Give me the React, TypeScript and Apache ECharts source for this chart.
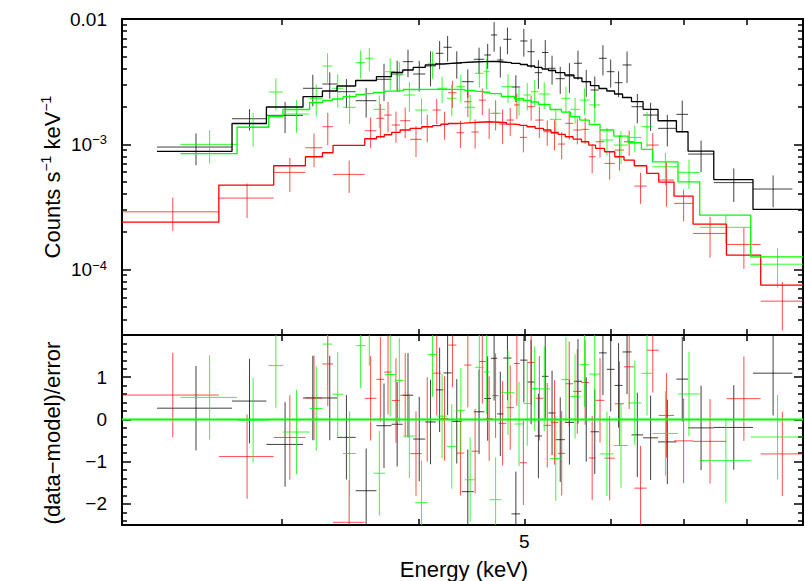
import React, { useEffect, useRef } from "react";
import * as echarts from "echarts";

const FONT = "'Liberation Sans', Arial, Helvetica, sans-serif";

// ---- axis ranges and ticks ----
const E_MIN = 2.14; // keV
const E_MAX = 9.0; // keV
const RATE_MIN = 3e-5;
const RATE_MAX = 1e-2;
const RES_MIN = -2.5;
const RES_MAX = 2;
const RATE_UNIT = 1e-3; // the rate arrays below are in 1e-3 counts s^-1 keV^-1

const X_TICKS = [3, 4, 5, 6, 7, 8];
const X_LABELS = [5];
const RATE_MAJOR = [1e-4, 1e-3, 1e-2];
const RATE_MINOR = [
  4e-5, 5e-5, 6e-5, 7e-5, 8e-5, 9e-5,
  2e-4, 3e-4, 4e-4, 5e-4, 6e-4, 7e-4, 8e-4, 9e-4,
  2e-3, 3e-3, 4e-3, 5e-3, 6e-3, 7e-3, 8e-3, 9e-3,
];
const RES_MAJOR = [-2, -1, 0, 1];
const RES_MINOR = [
  -2.4, -2.2, -1.8, -1.6, -1.4, -1.2, -0.8, -0.6, -0.4, -0.2,
  0.2, 0.4, 0.6, 0.8, 1.2, 1.4, 1.6, 1.8,
];

// ---- black spectrum ----
const blackEdges = [
  2.304, 2.699, 2.902, 3.135, 3.266, 3.368, 3.503, 3.66, 3.778, 3.869, 3.955,
  4.057, 4.148, 4.216, 4.29, 4.382, 4.494, 4.595, 4.661, 4.722, 4.784, 4.866,
  4.957, 5.033, 5.111, 5.19, 5.261, 5.341, 5.446, 5.552, 5.646, 5.749, 5.853,
  5.95, 6.048, 6.151, 6.268, 6.423, 6.629, 6.891, 7.062, 7.456, 8.099, 8.801,
];
const blackRate = [
  0.95, 1.599, 1.702, 2.797, 3.027, 2.627, 2.227, 3.301, 3.638, 4.563, 3.638,
  4.216, 5.324, 5.946, 4.431, 3.158, 4.769, 5.16, 7.457, 4.708, 6.891, 2.865,
  6.677, 5.483, 3.727, 5.403, 4.042, 3.337, 3.507, 4.431, 3.158, 2.711, 4.858,
  3.796, 3.1, 4.295, 1.994, 1.711, 1.34, 1.733, 0.835, 0.494, 0.439,
];
const blackErr = [
  0.27, 0.31, 0.475, 0.789, 0.72, 0.684, 0.593, 1.087, 1.018, 1.129, 0.999,
  1.312, 1.357, 1.375, 1.09, 0.807, 1.137, 1.168, 1.987, 1.299, 1.658, 0.693,
  1.668, 1.43, 0.958, 1.384, 1.048, 0.814, 0.935, 1.163, 0.767, 0.764, 1.314,
  0.956, 0.722, 1.209, 0.525, 0.434, 0.378, 0.496, 0.235, 0.148, 0.125,
];
const blackModel = [
  0.878, 1.464, 1.983, 2.396, 2.661, 2.917, 3.228, 3.462, 3.754, 3.916, 4.102,
  4.295, 4.374, 4.431, 4.48, 4.538, 4.563, 4.58, 4.58, 4.538, 4.48, 4.415,
  4.334, 4.216, 4.102, 3.99, 3.881, 3.727, 3.572, 3.381, 3.158, 2.934, 2.787,
  2.661, 2.518, 2.362, 2.186, 1.9, 1.541, 1.259, 0.882, 0.522, 0.302,
];

// ---- red spectrum ----
const redEdges = [
  2.139, 2.625, 2.947, 3.151, 3.266, 3.34, 3.571, 3.66, 3.721, 3.78, 3.848,
  3.93, 4.027, 4.121, 4.192, 4.259, 4.334, 4.405, 4.472, 4.542, 4.61, 4.675,
  4.737, 4.815, 4.892, 4.952, 5.028, 5.116, 5.206, 5.289, 5.369, 5.451, 5.542,
  5.64, 5.728, 5.81, 5.921, 6.051, 6.17, 6.305, 6.473, 6.639, 6.856, 7.137,
  7.658, 8.232, 9.0,
];
const redRate = [
  0.2888, 0.3716, 0.5963, 0.9376, 1.38, 0.5747, 1.282, 1.611, 1.711, 1.424,
  1.541, 1.094, 1.38, 1.876, 1.45, 2.579, 1.236, 2.186, 1.252, 2.25,
  1.513, 1.766, 1.45, 1.56, 2.06, 1.135, 1.994, 1.56, 1.259, 1.222,
  1.004, 1.469, 1.3, 1.315, 0.7946, 1.047, 0.7037, 0.899, 1.047, 0.4634,
  0.9854, 0.518, 0.3372, 0.1941, 0.1585, 0.0559,
];
const redErr = [
  0.0864, 0.1142, 0.1808, 0.2805, 0.399, 0.1664, 0.352, 0.487, 0.4635, 0.3975,
  0.423, 0.304, 0.3425, 0.429, 0.364, 0.633, 0.3025, 0.54, 0.328, 0.543,
  0.41, 0.475, 0.444, 0.3935, 0.47, 0.274, 0.455, 0.4375, 0.287, 0.328,
  0.244, 0.38, 0.3015, 0.306, 0.209, 0.264, 0.1825, 0.2815, 0.24, 0.129,
  0.244, 0.2, 0.0954, 0.0698, 0.0575, 0.0234,
];
const redModel = [
  0.2389, 0.4721, 0.6733, 0.7946, 0.8553, 0.98, 1.106, 1.148, 1.191, 1.245,
  1.299, 1.34, 1.38, 1.406, 1.442, 1.464, 1.477, 1.491, 1.499, 1.505,
  1.505, 1.499, 1.491, 1.45, 1.437, 1.416, 1.38, 1.34, 1.299, 1.245,
  1.2, 1.148, 1.1, 1.047, 0.9854, 0.9274, 0.8712, 0.7946, 0.7479, 0.6733,
  0.5855, 0.4989, 0.3856, 0.2303, 0.1302, 0.075,
];

// ---- green spectrum ----
const greenEdges = [
  2.421, 2.728, 2.916, 3.005, 3.179, 3.268, 3.335, 3.411, 3.506, 3.574, 3.637,
  3.728, 3.808, 3.875, 3.972, 4.078, 4.161, 4.247, 4.334, 4.413, 4.507, 4.588,
  4.648, 4.764, 4.897, 4.992, 5.07, 5.151, 5.278, 5.408, 5.509, 5.62, 5.734,
  5.866, 6.038, 6.223, 6.401, 6.552, 6.914, 7.238, 8.06, 9.0,
];
const greenRate = [
  0.998, 1.365, 2.613, 1.743, 2.327, 4.216, 2.797, 1.972, 4.48, 4.858, 1.9,
  3.796, 3.572, 2.473, 1.876, 4.431, 2.797, 2.327, 2.88, 1.972, 3.686, 3.796,
  1.766, 2.88, 2.25, 2.473, 2.627, 2.518, 1.581, 2.327, 1.9, 2.25, 2.06,
  1.081, 0.9854, 1.135, 1.38, 0.661, 0.5963, 0.2172, 0.1102,
];
const greenErr = [
  0.298, 0.4055, 0.743, 0.507, 0.666, 1.11, 0.837, 0.525, 1.1355, 1.024, 0.548,
  1.0755, 0.968, 0.67, 0.4415, 1.097, 0.661, 0.6565, 0.718, 0.5, 0.8415, 1.0615,
  0.403, 0.75, 0.557, 0.6115, 0.62, 0.6115, 0.338, 0.548, 0.4415, 0.531, 0.5755,
  0.267, 0.2877, 0.274, 0.4295, 0.192, 0.157, 0.056, 0.0385,
];
const greenModel = [
  0.8425, 1.372, 1.665, 1.894, 2.154, 2.235, 2.297, 2.396, 2.495, 2.532, 2.598,
  2.651, 2.676, 2.736, 2.746, 2.746, 2.746, 2.746, 2.726, 2.686, 2.646, 2.602,
  2.532, 2.405, 2.31, 2.243, 2.174, 2.076, 1.894, 1.808, 1.659, 1.561, 1.442,
  1.299, 1.163, 1.028, 0.9104, 0.7246, 0.5015, 0.2718, 0.1262,
];

const SETS = [
  { edges: blackEdges, rate: blackRate, err: blackErr, model: blackModel, color: "#000000", opacity: 0.75 },
  { edges: redEdges, rate: redRate, err: redErr, model: redModel, color: "#ff0000", opacity: 0.7 },
  { edges: greenEdges, rate: greenRate, err: greenErr, model: greenModel, color: "#00ff00", opacity: 0.8 },
];

const L = Math.log10;

function crossData(s: any) {
  return s.rate.map((r: number, i: number) => {
    const lo = s.edges[i];
    const hi = s.edges[i + 1];
    const y = r * RATE_UNIT;
    const e = s.err[i] * RATE_UNIT;
    const bot = y - e > 0 ? L(y - e) : L(RATE_MIN) - 1;
    return [L(lo), L(hi), L((lo + hi) / 2), L(y), L(y + e), bot];
  });
}

function residData(s: any) {
  return s.rate.map((r: number, i: number) => {
    const lo = s.edges[i];
    const hi = s.edges[i + 1];
    const res = (r - s.model[i]) / s.err[i];
    return [L(lo), L(hi), L((lo + hi) / 2), res, res + 1, res - 1];
  });
}

function modelData(s: any) {
  const pts: number[][] = [];
  s.model.forEach((m: number, i: number) => {
    pts.push([L(s.edges[i]), L(m * RATE_UNIT)]);
    pts.push([L(s.edges[i + 1]), L(m * RATE_UNIT)]);
  });
  const last = s.edges[s.edges.length - 1];
  if (last < E_MAX) pts.push([L(E_MAX), pts[pts.length - 1][1]]);
  return pts;
}

function makeRender(color: string, opacity: number) {
  return (params: any, api: any) => {
    const cs = params.coordSys;
    const x0 = cs.x;
    const x1 = cs.x + cs.width;
    const y0 = cs.y;
    const y1 = cs.y + cs.height;
    const pL = api.coord([api.value(0), api.value(3)]);
    const pR = api.coord([api.value(1), api.value(3)]);
    const pT = api.coord([api.value(2), api.value(4)]);
    const pB = api.coord([api.value(2), api.value(5)]);
    const style = { stroke: color, lineWidth: 1, opacity };
    const children: any[] = [];
    if (pL[1] >= y0 && pL[1] <= y1) {
      children.push({
        type: "line",
        shape: { x1: Math.max(pL[0], x0), y1: pL[1], x2: Math.min(pR[0], x1), y2: pR[1] },
        style,
      });
    }
    const t = Math.max(Math.min(pT[1], pB[1]), y0);
    const b = Math.min(Math.max(pT[1], pB[1]), y1);
    if (b > t && pT[0] >= x0 && pT[0] <= x1) {
      children.push({ type: "line", shape: { x1: pT[0], y1: t, x2: pT[0], y2: b }, style });
    }
    return { type: "group", children };
  };
}

const AXIS_LINE = { show: true, onZero: false, lineStyle: { color: "#000", width: 2 } };
const TICK_STYLE = { color: "#000", width: 1.5 };

function xAxisDef(grid: number, position: string, labels: boolean) {
  return {
    type: "value",
    gridIndex: grid,
    position,
    min: L(E_MIN),
    max: L(E_MAX),
    axisLine: AXIS_LINE,
    axisTick: { show: true, inside: true, length: 6, customValues: X_TICKS.map(L), lineStyle: TICK_STYLE },
    axisLabel: labels
      ? {
          show: true,
          customValues: X_LABELS.map(L),
          formatter: (v: number) => String(Math.round(Math.pow(10, v))),
          color: "#000",
          fontSize: 19,
          fontFamily: FONT,
          margin: 7,
        }
      : { show: false },
    splitLine: { show: false },
  };
}

function yMajorDef(grid: number, position: string, min: number, max: number, ticks: number[], label: any) {
  return {
    type: "value",
    gridIndex: grid,
    position,
    min,
    max,
    axisLine: AXIS_LINE,
    axisTick: { show: true, inside: true, length: 9, customValues: ticks, lineStyle: TICK_STYLE },
    axisLabel: label ? { customValues: ticks, ...label } : { show: false },
    splitLine: { show: false },
  };
}

function yMinorDef(grid: number, position: string, min: number, max: number, ticks: number[]) {
  return {
    type: "value",
    gridIndex: grid,
    position,
    min,
    max,
    axisLine: { show: false, onZero: false },
    axisTick: { show: true, inside: true, length: 5, customValues: ticks, lineStyle: TICK_STYLE },
    axisLabel: { show: false },
    splitLine: { show: false },
  };
}

const rateLabel = {
  show: true,
  color: "#000",
  fontSize: 19,
  fontFamily: FONT,
  margin: 15,
  formatter: (v: number) => {
    const e = Math.round(v);
    if (e === -2) return "0.01";
    return `{b|10}{s|−${-e}}`;
  },
  rich: {
    b: { fontSize: 19, fontFamily: FONT, color: "#000", lineHeight: 22 },
    s: { fontSize: 13, fontFamily: FONT, color: "#000", lineHeight: 22, verticalAlign: "top" },
  },
};

const resLabel = {
  show: true,
  color: "#000",
  fontSize: 19,
  fontFamily: FONT,
  margin: 15,
  formatter: (v: number) => {
    const r = Math.round(v);
    return r < 0 ? `−${-r}` : String(r);
  },
};

export default function App() {
  const ref = useRef<HTMLDivElement>(null);
  useEffect(() => {
    if (!ref.current) return;
    const chart = echarts.init(ref.current, undefined, { renderer: "svg" });
    const yTopMin = L(RATE_MIN);
    const yTopMax = L(RATE_MAX);

    const series: any[] = [];
    SETS.forEach((s) => {
      series.push({
        type: "custom",
        xAxisIndex: 0,
        yAxisIndex: 0,
        renderItem: makeRender(s.color, s.opacity),
        data: crossData(s),
        silent: true,
      });
    });
    SETS.forEach((s) => {
      series.push({
        type: "line",
        xAxisIndex: 0,
        yAxisIndex: 0,
        data: modelData(s),
        symbol: "none",
        showSymbol: false,
        lineStyle: { color: s.color, width: 1.3 },
        silent: true,
      });
    });
    SETS.forEach((s) => {
      series.push({
        type: "custom",
        xAxisIndex: 2,
        yAxisIndex: 4,
        renderItem: makeRender(s.color, s.opacity),
        data: residData(s),
        silent: true,
      });
    });
    series.push({
      type: "line",
      xAxisIndex: 2,
      yAxisIndex: 4,
      data: [
        [L(E_MIN), 0],
        [L(E_MAX), 0],
      ],
      symbol: "none",
      showSymbol: false,
      lineStyle: { color: "#00ff00", width: 2 },
      silent: true,
      z: 5,
    });

    const option: any = {
      animation: false,
      backgroundColor: "#ffffff",
      grid: [
        { left: 122, top: 19, width: 681, height: 316 },
        { left: 122, top: 335, width: 681, height: 190 },
      ],
      xAxis: [
        xAxisDef(0, "bottom", false),
        xAxisDef(0, "top", false),
        xAxisDef(1, "bottom", true),
        xAxisDef(1, "top", false),
      ],
      yAxis: [
        yMajorDef(0, "left", yTopMin, yTopMax, RATE_MAJOR.map(L), rateLabel),
        yMajorDef(0, "right", yTopMin, yTopMax, RATE_MAJOR.map(L), null),
        yMinorDef(0, "left", yTopMin, yTopMax, RATE_MINOR.map(L)),
        yMinorDef(0, "right", yTopMin, yTopMax, RATE_MINOR.map(L)),
        yMajorDef(1, "left", RES_MIN, RES_MAX, RES_MAJOR, resLabel),
        yMajorDef(1, "right", RES_MIN, RES_MAX, RES_MAJOR, null),
        yMinorDef(1, "left", RES_MIN, RES_MAX, RES_MINOR),
        yMinorDef(1, "right", RES_MIN, RES_MAX, RES_MINOR),
      ],
      series,
      graphic: [
        {
          type: "text",
          x: 52,
          y: 177,
          rotation: Math.PI / 2,
          style: {
            text: "{n|Counts s}{s|−1}{n| keV}{s|−1}",
            align: "center",
            verticalAlign: "middle",
            rich: {
              n: { fontSize: 22, fontFamily: FONT, fill: "#000", lineHeight: 26 },
              s: { fontSize: 14, fontFamily: FONT, fill: "#000", lineHeight: 26, verticalAlign: "top" },
            },
          },
        },
        {
          type: "text",
          x: 52,
          y: 433,
          rotation: Math.PI / 2,
          style: {
            text: "(data−model)/error",
            align: "center",
            verticalAlign: "middle",
            fontSize: 22,
            fontFamily: FONT,
            fill: "#000",
          },
        },
        {
          type: "text",
          x: 464,
          y: 569,
          style: {
            text: "Energy (keV)",
            align: "center",
            verticalAlign: "middle",
            fontSize: 22,
            fontFamily: FONT,
            fill: "#000",
          },
        },
      ],
    };
    chart.setOption(option);
    return () => chart.dispose();
  }, []);

  return (
    <div
      ref={ref}
      style={{ position: "absolute", left: 0, top: 0, width: 805, height: 581, background: "#fff" }}
    />
  );
}
